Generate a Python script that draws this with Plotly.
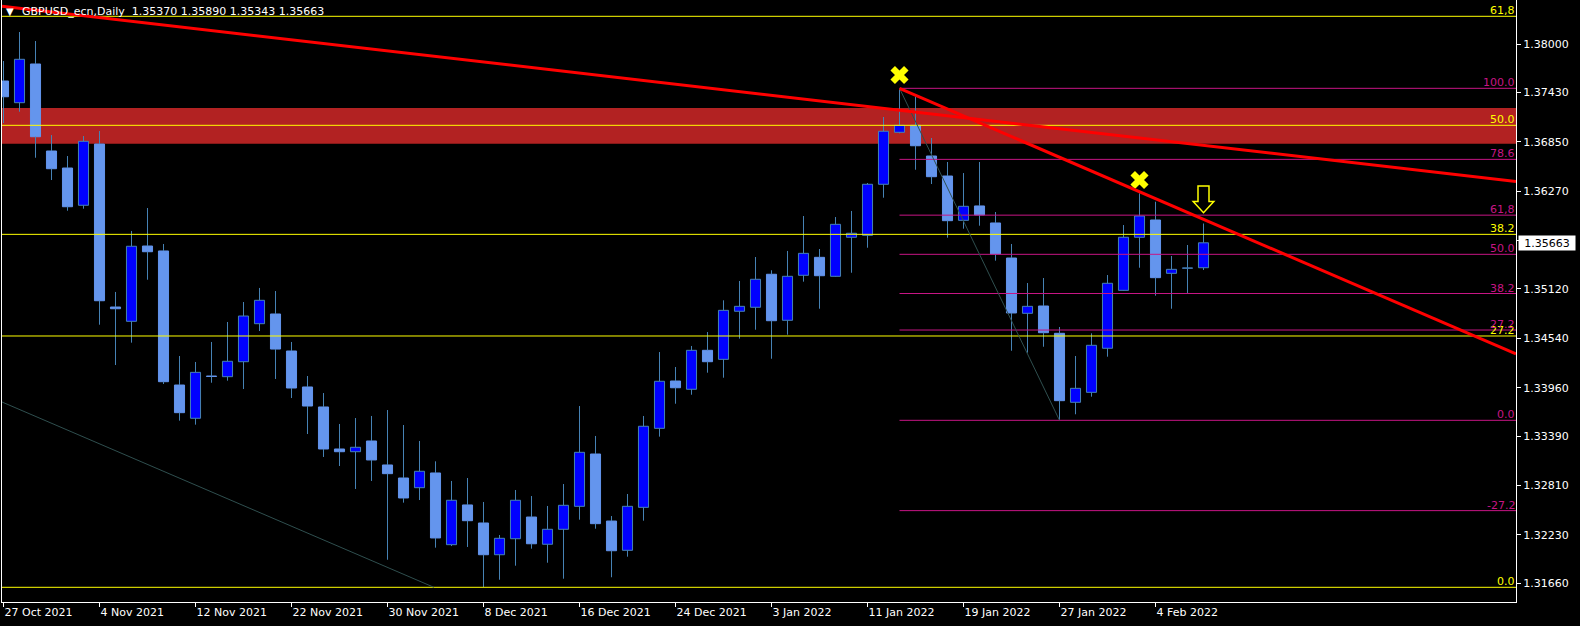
import plotly.graph_objects as go

# ---------------- data ----------------
tick_index = [0, 6, 12, 18, 24, 30, 36, 42, 48, 54, 60, 66, 72]
tick_labels = ["27 Oct 2021", "4 Nov 2021", "12 Nov 2021", "22 Nov 2021", "30 Nov 2021",
               "8 Dec 2021", "16 Dec 2021", "24 Dec 2021", "3 Jan 2022", "11 Jan 2022",
               "19 Jan 2022", "27 Jan 2022", "4 Feb 2022"]

opens = [1.37565, 1.37310, 1.37765, 1.36742, 1.36542, 1.36104, 1.36824, 1.34908, 1.34740, 1.35625,
         1.35567, 1.33991, 1.33600, 1.34097, 1.34089, 1.34265, 1.34712, 1.34826, 1.34391, 1.33968,
         1.33733, 1.33239, 1.33207, 1.33333, 1.33051, 1.32898, 1.32784, 1.32957, 1.32114, 1.32581,
         1.32369, 1.31996, 1.32184, 1.32439, 1.32119, 1.32295, 1.32565, 1.33180, 1.32392, 1.32048,
         1.32553, 1.33482, 1.34038, 1.33941, 1.34399, 1.34293, 1.34858, 1.34905, 1.35293, 1.34752,
         1.35281, 1.35492, 1.35269, 1.35728, 1.35751, 1.36351, 1.36962, 1.37044, 1.36683, 1.36448,
         1.35927, 1.36096, 1.35896, 1.35484, 1.34834, 1.34920, 1.34599, 1.33788, 1.33905, 1.34423,
         1.35104, 1.35728, 1.35931, 1.35304, 1.35363, 1.35370]
highs = [1.37800, 1.38141, 1.38035, 1.36930, 1.36683, 1.36918, 1.36977, 1.35085, 1.35802, 1.36072,
         1.35649, 1.34332, 1.34262, 1.34497, 1.34732, 1.34967, 1.35132, 1.35096, 1.34497, 1.34097,
         1.33897, 1.33533, 1.33603, 1.33627, 1.33697, 1.33521, 1.33333, 1.33094, 1.32863, 1.32898,
         1.32616, 1.32228, 1.32757, 1.32686, 1.32569, 1.32827, 1.33744, 1.33392, 1.32451, 1.32710,
         1.33627, 1.34379, 1.34203, 1.34450, 1.34614, 1.34987, 1.35214, 1.35496, 1.35340, 1.35567,
         1.35978, 1.35590, 1.35966, 1.36037, 1.36366, 1.37142, 1.37479, 1.37380, 1.36895, 1.36613,
         1.36483, 1.36613, 1.36025, 1.35649, 1.35190, 1.35249, 1.34673, 1.34332, 1.34599, 1.35284,
         1.35872, 1.36245, 1.36146, 1.35508, 1.35637, 1.35890]
lows = [1.37071, 1.37204, 1.36663, 1.36401, 1.36040, 1.36064, 1.34700, 1.34226, 1.34489, 1.35229,
        1.34003, 1.33572, 1.33525, 1.34018, 1.34042, 1.33944, 1.34626, 1.34062, 1.33838, 1.33415,
        1.33145, 1.33039, 1.32769, 1.32863, 1.31937, 1.32608, 1.32639, 1.32079, 1.32098, 1.32087,
        1.31615, 1.31702, 1.31867, 1.32067, 1.31902, 1.31714, 1.32408, 1.32302, 1.31731, 1.31973,
        1.32396, 1.33384, 1.33771, 1.33877, 1.34136, 1.34077, 1.34536, 1.34641, 1.34300, 1.34583,
        1.35206, 1.34888, 1.35264, 1.35311, 1.35605, 1.36193, 1.36950, 1.36522, 1.36354, 1.35723,
        1.35829, 1.35864, 1.35453, 1.34394, 1.34371, 1.34441, 1.33576, 1.33647, 1.33854, 1.34324,
        1.35100, 1.35370, 1.35041, 1.34888, 1.35073, 1.35343]
closes = [1.37380, 1.37820, 1.36910, 1.36534, 1.36087, 1.36856, 1.34982, 1.34888, 1.35622, 1.35558,
          1.34030, 1.33666, 1.34140, 1.34091, 1.34270, 1.34802, 1.34987, 1.34414, 1.33956, 1.33744,
          1.33239, 1.33207, 1.33259, 1.33110, 1.32949, 1.32663, 1.32977, 1.32193, 1.32636, 1.32396,
          1.31996, 1.32189, 1.32636, 1.32125, 1.32295, 1.32577, 1.33200, 1.32361, 1.32043, 1.32565,
          1.33506, 1.34035, 1.33959, 1.34399, 1.34265, 1.34869, 1.34916, 1.35234, 1.34747, 1.35269,
          1.35539, 1.35276, 1.35880, 1.35775, 1.36351, 1.36974, 1.37044, 1.36804, 1.36440, 1.35923,
          1.36092, 1.35990, 1.35531, 1.34838, 1.34916, 1.34606, 1.33807, 1.33952, 1.34458, 1.35187,
          1.35728, 1.35978, 1.35253, 1.35351, 1.35368, 1.35663]

price_ticks = [1.38000, 1.37430, 1.36850, 1.36270, 1.35690, 1.35120, 1.34540,
               1.33960, 1.33390, 1.32810, 1.32230, 1.31660]

symbol_title = "GBPUSD_ecn,Daily"
last_price = 1.35663

# resistance zone
zone_top, zone_bottom = 1.37248, 1.36828

# big (yellow) fibonacci: 0 / 100 anchor prices
fib1_zero, fib1_hundred = 1.31613, 1.42475
fib1_levels = [61.8, 50.0, 38.2, 27.2, 0.0]
fib1_labels = ["61,8", "50.0", "38.2", "27.2", "0.0"]
fib1_diag_x = [-0.09, 26.9]
fib1_diag_y = [1.33791, 1.31613]

# small (magenta) fibonacci: from bar 56 high to bar 66 low
fib2_start_bar, fib2_end_bar = 56, 66
fib2_zero, fib2_hundred = 1.33576, 1.37479
fib2_levels = [100.0, 78.6, 61.8, 50.0, 38.2, 27.2, 0.0, -27.2]
fib2_labels = ["100.0", "78.6", "61,8", "50.0", "38.2", "27.2", "0.0", "-27.2"]

# red trend lines (bar index, price)
trend1_x = [-0.094, 94.53]
trend1_y = [1.38444, 1.36383]
trend2_x = [56, 94.53]
trend2_y = [1.37479, 1.34357]

# yellow X marks
mark_x = [56, 71]
mark_y = [1.37636, 1.36401]

# yellow down arrow (bar, top price, head price, tip price)
arrow_bar = 75
arrow_top, arrow_head, arrow_tip = 1.36331, 1.36148, 1.36017

# ---------------- styling ----------------
BULL_FILL = "#0000FF"
BEAR_FILL = "#6495ED"
WICK = "#4682B4"
YELLOW = "#FFFF00"
MAGENTA = "#C71585"
DIAG = "#2F4F4F"
FONT = "DejaVu Sans"

W, H = 1580, 626
ML, MR, MT, MB = 2, 64, 0, 24
XR = [-0.09375, 94.53125]
YR = [1.314402, 1.385173]
px_per_bar = (W - ML - MR) / (XR[1] - XR[0])

n = len(opens)
xs = list(range(n))
bull_i = [i for i in xs if closes[i] >= opens[i]]
bear_i = [i for i in xs if closes[i] < opens[i]]

fig = go.Figure()

# wicks (split so they never cross the body)
wx, wy = [], []
for i in xs:
    top = max(opens[i], closes[i])
    bot = min(opens[i], closes[i])
    wx += [i, i, None, i, i, None]
    wy += [highs[i], top, None, bot, lows[i], None]
fig.add_trace(go.Scatter(x=wx, y=wy, mode="lines", line=dict(color=WICK, width=1),
                         hoverinfo="skip", showlegend=False))

for idx, fill, lc in [(bull_i, BULL_FILL, WICK), (bear_i, BEAR_FILL, BEAR_FILL)]:
    fig.add_trace(go.Bar(
        x=[xs[i] for i in idx],
        base=[min(opens[i], closes[i]) for i in idx],
        y=[abs(closes[i] - opens[i]) for i in idx],
        width=0.63,
        marker=dict(color=fill, line=dict(color=lc, width=1)),
        hoverinfo="skip", showlegend=False))

# X marks
fig.add_trace(go.Scatter(x=mark_x, y=mark_y, mode="markers",
                         marker=dict(symbol="x", size=16, color=YELLOW, line=dict(width=0)),
                         hoverinfo="skip", showlegend=False, cliponaxis=False))

shapes = []
# zone
shapes.append(dict(type="rect", xref="paper", yref="y", x0=0, x1=1, y0=zone_bottom, y1=zone_top,
                   fillcolor="#B22222", line=dict(width=0), layer="below"))
# yellow fib levels
for lv in fib1_levels:
    p = fib1_zero + lv / 100.0 * (fib1_hundred - fib1_zero)
    shapes.append(dict(type="line", xref="paper", yref="y", x0=0, x1=1, y0=p, y1=p,
                       line=dict(color=YELLOW, width=1), layer="above"))
# magenta fib levels
for lv in fib2_levels:
    p = fib2_zero + lv / 100.0 * (fib2_hundred - fib2_zero)
    shapes.append(dict(type="line", xref="x", yref="y", x0=fib2_start_bar, x1=XR[1], y0=p, y1=p,
                       line=dict(color=MAGENTA, width=1), layer="above"))
# fib diagonals
shapes.append(dict(type="line", xref="x", yref="y", x0=fib1_diag_x[0], x1=fib1_diag_x[1],
                   y0=fib1_diag_y[0], y1=fib1_diag_y[1],
                   line=dict(color=DIAG, width=1), layer="above"))
shapes.append(dict(type="line", xref="x", yref="y", x0=fib2_start_bar, x1=fib2_end_bar,
                   y0=fib2_hundred, y1=fib2_zero,
                   line=dict(color=DIAG, width=1), layer="above"))
# red trend lines
for tx, ty in [(trend1_x, trend1_y), (trend2_x, trend2_y)]:
    shapes.append(dict(type="line", xref="x", yref="y", x0=tx[0], x1=tx[1], y0=ty[0], y1=ty[1],
                       line=dict(color="#FF0000", width=3), layer="above"))
# arrow outline
sh = 5.5 / px_per_bar
hw = 10.3 / px_per_bar
a = arrow_bar
path = (f"M {a - sh},{arrow_top} L {a + sh},{arrow_top} L {a + sh},{arrow_head} "
        f"L {a + hw},{arrow_head} L {a},{arrow_tip} L {a - hw},{arrow_head} "
        f"L {a - sh},{arrow_head} Z")
shapes.append(dict(type="path", xref="x", yref="y", path=path,
                   line=dict(color=YELLOW, width=1.5), fillcolor="rgba(0,0,0,0)", layer="above"))

annotations = []
for lv, lab in zip(fib1_levels, fib1_labels):
    p = fib1_zero + lv / 100.0 * (fib1_hundred - fib1_zero)
    annotations.append(dict(xref="paper", yref="y", x=1, y=p, xanchor="right", yanchor="bottom",
                            text=lab, showarrow=False, font=dict(family=FONT, size=11, color=YELLOW),
                            borderpad=0, yshift=-2))
for lv, lab in zip(fib2_levels, fib2_labels):
    p = fib2_zero + lv / 100.0 * (fib2_hundred - fib2_zero)
    annotations.append(dict(xref="paper", yref="y", x=1, y=p, xanchor="right", yanchor="bottom",
                            text=lab, showarrow=False, font=dict(family=FONT, size=11, color=MAGENTA),
                            borderpad=0, yshift=-2))
# current price box
annotations.append(dict(xref="paper", yref="y", x=1, y=last_price, xanchor="left", yanchor="middle",
                        xshift=2, text=f"{last_price:.5f}", showarrow=False, width=56, height=14,
                        align="center", bgcolor="#FFFFFF", borderpad=0,
                        font=dict(family=FONT, size=11, color="#000000")))
# title
annotations.append(dict(xref="paper", yref="paper", x=0, y=1, xanchor="left", yanchor="top",
                        xshift=3, yshift=-5, text="\u25BC", showarrow=False,
                        font=dict(family=FONT, size=10, color="#FFFFFF"), borderpad=0))
annotations.append(dict(xref="paper", yref="paper", x=0, y=1, xanchor="left", yanchor="top",
                        xshift=19, yshift=-4,
                        text=(f"{symbol_title}\u00a0\u00a0{opens[-1]:.5f}\u00a0{highs[-1]:.5f}"
                              f"\u00a0{lows[-1]:.5f}\u00a0{closes[-1]:.5f}"),
                        showarrow=False, font=dict(family=FONT, size=11, color="#FFFFFF"),
                        borderpad=0))

fig.update_layout(
    width=W, height=H,
    margin=dict(l=ML, r=MR, t=MT, b=MB, pad=0, autoexpand=False),
    paper_bgcolor="#000000", plot_bgcolor="#000000",
    font=dict(family=FONT, size=11, color="#FFFFFF"),
    barmode="overlay",
    showlegend=False,
    shapes=shapes,
    annotations=annotations,
    xaxis=dict(range=XR, tickmode="array", tickvals=tick_index, ticktext=tick_labels,
               ticks="outside", ticklen=4, tickwidth=1, tickcolor="#FFFFFF",
               ticklabelposition="outside right", automargin=False,
               showgrid=False, zeroline=False, showline=True, linecolor="#FFFFFF", linewidth=1,
               tickfont=dict(family=FONT, size=11, color="#FFFFFF"), fixedrange=True),
    yaxis=dict(range=YR, side="right", tickmode="array", tickvals=price_ticks,
               ticktext=[f"{v:.5f}" for v in price_ticks], automargin=False,
               ticks="outside", ticklen=4, tickwidth=1, tickcolor="#FFFFFF",
               showgrid=False, zeroline=False, showline=True, mirror=True,
               linecolor="#FFFFFF", linewidth=1,
               tickfont=dict(family=FONT, size=11, color="#FFFFFF"), fixedrange=True),
)

fig.write_html("out.html", config={"displayModeBar": False},
               post_script="document.body.style.margin='0';document.body.style.background='#000';")
